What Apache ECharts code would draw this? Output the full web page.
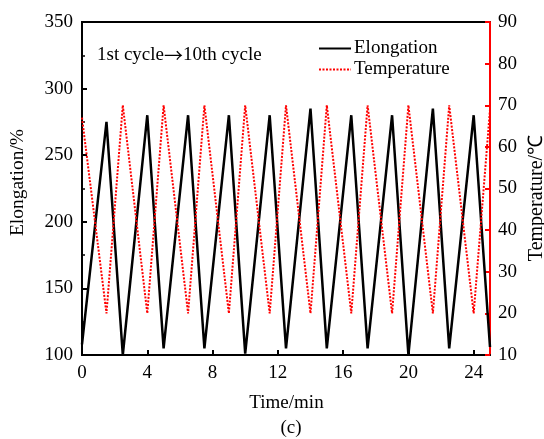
<!DOCTYPE html>
<html>
<head>
<meta charset="utf-8">
<script src="https://cdn.jsdelivr.net/npm/echarts@6/dist/echarts.min.js"></script>
<style>
html,body{margin:0;padding:0;background:#fff;}
#chart{width:544px;height:439px;}
</style>
</head>
<body>
<div id="chart"></div>
<script>
// Data
const timeMin = [0, 1.5, 2.5, 4, 5, 6.5, 7.5, 9, 10, 11.5, 12.5, 14, 15, 16.5, 17.5, 19, 20, 21.5, 22.5, 24, 25];
const elongation = [108, 275, 100, 280, 105, 280, 105, 280, 101, 280, 105, 285, 105, 280, 105, 280, 100, 285, 105, 280, 106];
const temperature = [67, 20, 70, 20, 70, 20, 70, 20, 70, 20, 70, 20, 70, 20, 70, 20, 70, 20, 70, 20, 69];
const xTicks = [0, 4, 8, 12, 16, 20, 24];
const seriesNames = ['Elongation', 'Temperature'];
const annotationParts = ['1st cycle', '\u2192', '10th cycle'];

const FONT = '"Liberation Serif", "Times New Roman", serif';
const chart = echarts.init(document.getElementById('chart'), null, {renderer: 'canvas'});

const elongData = timeMin.map((t, i) => [t, elongation[i]]);
const tempData = timeMin.map((t, i) => [t, temperature[i]]);

chart.setOption({
  animation: false,
  backgroundColor: '#fff',
  textStyle: {fontFamily: FONT, color: '#000'},
  grid: {left: 82, right: 54, top: 22, bottom: 84, show: true, borderColor: '#000', borderWidth: 2, backgroundColor: 'transparent'},
  legend: {
    orient: 'vertical', left: 318, top: 38, padding: 0, itemGap: 0,
    itemWidth: 32, itemHeight: 14,
    itemStyle: {opacity: 0},
    textStyle: {fontFamily: FONT, fontSize: 19, color: '#000', lineHeight: 21, padding: [0, 0, 0, -2]},
    data: seriesNames
  },
  xAxis: {
    type: 'value', min: 0, max: 25, interval: 4,
    axisLine: {show: true, lineStyle: {color: '#000', width: 2}},
    axisTick: {show: true, inside: true, length: 5, lineStyle: {color: '#000', width: 2}},
    axisLabel: {fontFamily: FONT, fontSize: 19, color: '#000', margin: 9, showMaxLabel: false,
      formatter: v => xTicks.indexOf(v) >= 0 ? String(v) : ''},
    splitLine: {show: false}
  },
  yAxis: [{
    type: 'value', min: 100, max: 350, interval: 50, position: 'left',
    axisLine: {show: true, lineStyle: {color: '#000', width: 2}},
    axisTick: {show: true, inside: true, length: 5, lineStyle: {color: '#000', width: 2}},
    minorTick: {show: true, splitNumber: 2, length: 3, lineStyle: {color: '#000', width: 1.5}},
    axisLabel: {fontFamily: FONT, fontSize: 19, color: '#000', margin: 9},
    splitLine: {show: false}
  }, {
    type: 'value', min: 10, max: 90, interval: 10, position: 'right',
    axisLine: {show: true, lineStyle: {color: '#ff0000', width: 2}},
    axisTick: {show: true, inside: true, length: 5, lineStyle: {color: '#ff0000', width: 2}},
    axisLabel: {fontFamily: FONT, fontSize: 19, color: '#000', margin: 8},
    splitLine: {show: false}
  }],
  graphic: [
    {type: 'text', left: 97, top: 46, style: {
      text: '{a|' + annotationParts[0] + '}{b|' + annotationParts[1] + '}{a|' + annotationParts[2] + '}',
      rich: {
        a: {fontFamily: FONT, fontSize: 19, fill: '#000', color: '#000'},
        b: {fontFamily: '"Noto Sans CJK SC", "DejaVu Sans", sans-serif', fontSize: 19, fill: '#000', color: '#000'}
      }}},
    {type: 'text', x: 18, y: 182.5, rotation: Math.PI / 2,
      style: {text: 'Elongation/%', font: '19.5px ' + FONT, fill: '#000', align: 'center', verticalAlign: 'middle'}},
    {type: 'text', x: 537, y: 198, rotation: Math.PI / 2,
      style: {text: 'Temperature/\u2103', font: '20px ' + FONT, fill: '#000', align: 'center', verticalAlign: 'middle'}},
    {type: 'text', x: 286.5, y: 403,
      style: {text: 'Time/min', font: '19px ' + FONT, fill: '#000', align: 'center', verticalAlign: 'middle'}},
    {type: 'text', x: 291, y: 428,
      style: {text: '(c)', font: '19px ' + FONT, fill: '#000', align: 'center', verticalAlign: 'middle'}}
  ],
  series: [{
    name: seriesNames[0], type: 'line', yAxisIndex: 0, symbol: 'none',
    lineStyle: {color: '#000', width: 2.5, join: 'miter'}, itemStyle: {color: '#000'},
    data: elongData, z: 3
  }, {
    name: seriesNames[1], type: 'line', yAxisIndex: 1, symbol: 'none',
    lineStyle: {color: '#ff0000', width: 2, type: [2, 1.5]}, itemStyle: {color: '#ff0000'},
    data: tempData, z: 4
  }]
});
</script>
</body>
</html>
